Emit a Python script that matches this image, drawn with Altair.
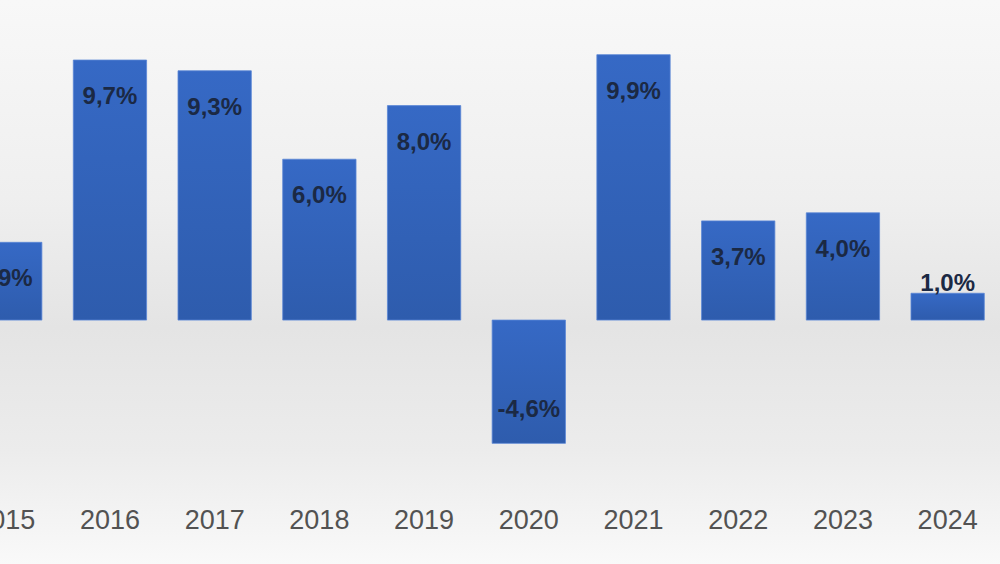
import altair as alt
import pandas as pd

years = [2015, 2016, 2017, 2018, 2019, 2020, 2021, 2022, 2023, 2024]
growth = [2.9, 9.7, 9.3, 6.0, 8.0, -4.6, 9.9, 3.7, 4.0, 1.0]

df = pd.DataFrame({"year": years, "v": growth})

W, H = 1000, 564
xscale = alt.Scale(domain=[2014.95, 2024.50], nice=False, zero=False)
yscale = alt.Scale(domain=[-9.1, 11.94], nice=False, zero=False)

base = alt.Chart(df).transform_calculate(
    x1="datum.year - 0.35",
    x2="datum.year + 0.35",
    zero="0",
    label="replace(replace(format(datum.v, '.1f'), '.', ','), '\u2212', '-') + '%'",
    ylab="-7.5",
)

bg = alt.Chart(df).mark_rect(
    color=alt.Gradient(
        gradient="linear",
        x1=0, x2=0, y1=0, y2=1,
        stops=[
            alt.GradientStop(color="#f8f8f8", offset=0),
            alt.GradientStop(color="#efefef", offset=0.35),
            alt.GradientStop(color="#e4e4e4", offset=0.58),
            alt.GradientStop(color="#ececec", offset=0.8),
            alt.GradientStop(color="#f9f9f9", offset=1),
        ],
    )
).encode(x=alt.value(0), x2=alt.value(W), y=alt.value(0), y2=alt.value(H))

bars = base.mark_bar(
    color=alt.Gradient(
        gradient="linear",
        x1=0, x2=0, y1=0, y2=1,
        stops=[
            alt.GradientStop(color="#3669c5", offset=0),
            alt.GradientStop(color="#2e5cad", offset=1),
        ],
    ),
    stroke="#5a86d6",
    strokeWidth=0.8,
).encode(
    x=alt.X("x1:Q", scale=xscale, axis=None),
    x2="x2:Q",
    y=alt.Y("v:Q", scale=yscale, axis=None),
    y2="zero:Q",
)


def label_layer(cond, dy):
    return base.transform_filter(cond).mark_text(
        font="Liberation Sans", fontSize=24, color="#1b2944", fontWeight="bold",
        align="center", baseline="middle", dy=dy,
    ).encode(
        x=alt.X("year:Q", scale=xscale, axis=None),
        y=alt.Y("v:Q", scale=yscale, axis=None),
        text="label:N",
    )


lab_pos = label_layer("datum.v >= 2", 37)
lab_small = label_layer("datum.v >= 0 && datum.v < 2", -9)
lab_neg = label_layer("datum.v < 0", -33)

yearlab = base.mark_text(
    font="Liberation Sans", fontSize=27, color="#525252",
    align="center", baseline="middle",
).encode(
    x=alt.X("year:Q", scale=xscale, axis=None),
    y=alt.Y("ylab:Q", scale=yscale, axis=None),
    text="year:N",
)

chart = alt.layer(bg, bars, lab_pos, lab_small, lab_neg, yearlab).properties(
    width=W, height=H,
    autosize=alt.AutoSizeParams(type="none"),
    padding=0,
    background="#f7f7f7",
).configure_view(stroke=None, clip=True)

chart.save("out.html", embed_options={"renderer": "svg", "actions": False})
